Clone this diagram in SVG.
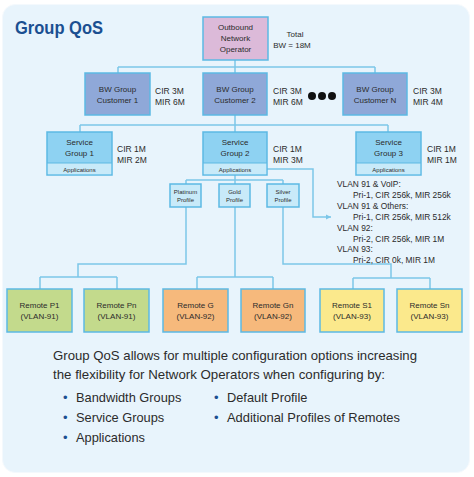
<svg xmlns="http://www.w3.org/2000/svg" width="474" height="477" viewBox="0 0 474 477">
<style>
.t{font-family:"Liberation Sans",Arial,sans-serif;fill:#2b2b2b;}
.n{font-size:8px;text-anchor:middle;}
.s{font-size:6px;text-anchor:middle;}
.l{font-size:8.5px;}
.v{font-size:8.4px;}
.b{font-size:12.8px;}
.box{stroke:#5cb9e3;stroke-width:1.5;}
.c{fill:none;stroke:#7cc6e8;stroke-width:1.5;}
</style>
<defs>
<marker id="ah" markerWidth="6" markerHeight="6" refX="5" refY="3" orient="auto" markerUnits="userSpaceOnUse">
<path d="M0,0.5 L5,3 L0,5.5 Z" fill="#7cc6e8"/>
</marker>
</defs>
<rect x="0" y="0" width="474" height="477" fill="#ffffff"/>
<rect x="2.5" y="4.5" width="467" height="468" rx="13" fill="#e8f4fc" stroke="#f4f9fd" stroke-width="1"/>
<text x="15" y="34" font-family="'Liberation Sans',Arial,sans-serif" font-weight="bold" font-size="19" fill="#1b4f91" textLength="88" lengthAdjust="spacingAndGlyphs">Group QoS</text>

<g id="connectors">
<path class="c" d="M235,60 V67 M118,67 H375 M118,67 V73 M235,67 V73 M375,67 V73"/>
<path class="c" d="M235,115 V125 M80,125 H388 M80,125 V132 M235,125 V132 M388,125 V132"/>
<path class="c" d="M235,175 V180 M186,180 H283 M186,180 V184 M235,180 V184 M283,180 V184"/>
<path class="c" d="M186,207 V264 H78 V277 M40,277 H117 M40,277 V289 M117,277 V289"/>
<path class="c" d="M235,207 V277 M197,277 H273 M197,277 V289 M273,277 V289"/>
<path class="c" d="M283,207 V264 H391 V278 M353,278 H430 M353,278 V289 M430,278 V289"/>
<path class="c" d="M267,169 H313 V217 H331" marker-end="url(#ah)"/>
</g>

<g id="outbound">
<rect class="box" x="203" y="17" width="65" height="43" fill="#dcbad9"/>
<text class="t n"><tspan x="235.5" y="30">Outbound</tspan><tspan x="235.5" y="41">Network</tspan><tspan x="235.5" y="52">Operator</tspan></text>
</g>
<g id="total">
<text class="t n"><tspan x="295" y="37">Total</tspan><tspan x="292" y="48">BW = 18M</tspan></text>
</g>

<g id="bw1">
<rect class="box" x="85" y="73" width="65" height="42" fill="#8fa8d8"/>
<text class="t n"><tspan x="117.5" y="92">BW Group</tspan><tspan x="117.5" y="103">Customer 1</tspan></text>
<text class="t l"><tspan x="155" y="94">CIR  3M</tspan><tspan x="155" y="105">MIR  6M</tspan></text>
</g>
<g id="bw2">
<rect class="box" x="203" y="73" width="64" height="42" fill="#8fa8d8"/>
<text class="t n"><tspan x="235" y="92">BW Group</tspan><tspan x="235" y="103">Customer 2</tspan></text>
<text class="t l"><tspan x="273" y="94">CIR  3M</tspan><tspan x="273" y="105">MIR  6M</tspan></text>
</g>
<g id="dots" fill="#111">
<circle cx="312" cy="96" r="4"/><circle cx="322" cy="96" r="4"/><circle cx="332" cy="96" r="4"/>
</g>
<g id="bwN">
<rect class="box" x="343" y="73" width="64" height="42" fill="#8fa8d8"/>
<text class="t n"><tspan x="375" y="92">BW Group</tspan><tspan x="375" y="103">Customer N</tspan></text>
<text class="t l"><tspan x="413" y="94">CIR  3M</tspan><tspan x="413" y="105">MIR  4M</tspan></text>
</g>

<g id="sg1">
<rect class="box" x="47" y="132" width="65" height="43" fill="#8ed2f2"/>
<rect x="47.75" y="163" width="63.5" height="11.25" fill="#c8eaf9"/>
<line x1="47" y1="163" x2="112" y2="163" stroke="#5cb9e3" stroke-width="1"/>
<text class="t n"><tspan x="79.5" y="145">Service</tspan><tspan x="79.5" y="156">Group 1</tspan></text>
<text class="t s" x="79.5" y="171.5">Applications</text>
<text class="t l"><tspan x="117" y="152">CIR  1M</tspan><tspan x="117" y="163">MIR  2M</tspan></text>
</g>
<g id="sg2">
<rect class="box" x="203" y="132" width="64" height="43" fill="#8ed2f2"/>
<rect x="203.75" y="163" width="62.5" height="11.25" fill="#c8eaf9"/>
<line x1="203" y1="163" x2="267" y2="163" stroke="#5cb9e3" stroke-width="1"/>
<text class="t n"><tspan x="235" y="145">Service</tspan><tspan x="235" y="156">Group 2</tspan></text>
<text class="t s" x="235" y="171.5">Applications</text>
<text class="t l"><tspan x="273" y="152">CIR  1M</tspan><tspan x="273" y="163">MIR  3M</tspan></text>
</g>
<g id="sg3">
<rect class="box" x="356" y="132" width="65" height="43" fill="#8ed2f2"/>
<rect x="356.75" y="163" width="63.5" height="11.25" fill="#c8eaf9"/>
<line x1="356" y1="163" x2="421" y2="163" stroke="#5cb9e3" stroke-width="1"/>
<text class="t n"><tspan x="388.5" y="145">Service</tspan><tspan x="388.5" y="156">Group 3</tspan></text>
<text class="t s" x="388.5" y="171.5">Applications</text>
<text class="t l"><tspan x="427" y="152">CIR  1M</tspan><tspan x="427" y="163">MIR  1M</tspan></text>
</g>

<g id="platinum">
<rect class="box" x="170" y="184" width="31" height="23" fill="#c8eaf9"/>
<text class="t s"><tspan x="185.5" y="194">Platinum</tspan><tspan x="185.5" y="202">Profile</tspan></text>
</g>
<g id="gold">
<rect class="box" x="219" y="184" width="31" height="23" fill="#c8eaf9"/>
<text class="t s"><tspan x="234.5" y="194">Gold</tspan><tspan x="234.5" y="202">Profile</tspan></text>
</g>
<g id="silver">
<rect class="box" x="267" y="184" width="32" height="23" fill="#c8eaf9"/>
<text class="t s"><tspan x="283" y="194">Silver</tspan><tspan x="283" y="202">Profile</tspan></text>
</g>

<g id="vlan-notes">
<text class="t v">
<tspan x="337" y="187">VLAN 91 &amp; VoIP:</tspan>
<tspan x="353" y="198">Pri-1, CIR 256k, MIR 256k</tspan>
<tspan x="337" y="209">VLAN 91 &amp; Others:</tspan>
<tspan x="353" y="220">Pri-1, CIR 256k, MIR 512k</tspan>
<tspan x="337" y="231">VLAN 92:</tspan>
<tspan x="353" y="242">Pri-2, CIR 256k, MIR 1M</tspan>
<tspan x="337" y="252">VLAN 93:</tspan>
<tspan x="353" y="263">Pri-2, CIR 0k, MIR 1M</tspan>
</text>
</g>

<g id="remoteP1">
<rect class="box" x="7" y="289" width="65" height="43" fill="#c3da8c"/>
<text class="t n"><tspan x="39.5" y="308">Remote P1</tspan><tspan x="39.5" y="319">(VLAN-91)</tspan></text>
</g>
<g id="remotePn">
<rect class="box" x="84" y="289" width="65" height="43" fill="#c3da8c"/>
<text class="t n"><tspan x="116.5" y="308">Remote Pn</tspan><tspan x="116.5" y="319">(VLAN-91)</tspan></text>
</g>
<g id="remoteG">
<rect class="box" x="163" y="289" width="65" height="43" fill="#f6b97c"/>
<text class="t n"><tspan x="195.5" y="308">Remote G</tspan><tspan x="195.5" y="319">(VLAN-92)</tspan></text>
</g>
<g id="remoteGn">
<rect class="box" x="241" y="289" width="64" height="43" fill="#f6b97c"/>
<text class="t n"><tspan x="273" y="308">Remote Gn</tspan><tspan x="273" y="319">(VLAN-92)</tspan></text>
</g>
<g id="remoteS1">
<rect class="box" x="320" y="289" width="64" height="43" fill="#fbe98c"/>
<text class="t n"><tspan x="352" y="308">Remote S1</tspan><tspan x="352" y="319">(VLAN-93)</tspan></text>
</g>
<g id="remoteSn">
<rect class="box" x="397" y="289" width="65" height="43" fill="#fbe98c"/>
<text class="t n"><tspan x="429.5" y="308">Remote Sn</tspan><tspan x="429.5" y="319">(VLAN-93)</tspan></text>
</g>

<g id="description">
<text class="t b" x="53" y="360" textLength="364" lengthAdjust="spacingAndGlyphs">Group QoS allows for multiple configuration options increasing</text>
<text class="t b" x="53" y="379" textLength="332" lengthAdjust="spacingAndGlyphs">the flexibility for Network Operators when configuring by:</text>
<g font-family="'Liberation Sans',Arial,sans-serif" font-size="13" fill="#1b4f91">
<text x="63" y="402">•</text><text x="63" y="422">•</text><text x="63" y="442">•</text>
<text x="214" y="402">•</text><text x="214" y="422">•</text>
</g>
<text class="t b" x="76" y="402">Bandwidth Groups</text>
<text class="t b" x="76" y="422">Service Groups</text>
<text class="t b" x="76" y="442">Applications</text>
<text class="t b" x="227" y="402">Default Profile</text>
<text class="t b" x="227" y="422" textLength="173" lengthAdjust="spacingAndGlyphs">Additional Profiles of Remotes</text>
</g>
</svg>
